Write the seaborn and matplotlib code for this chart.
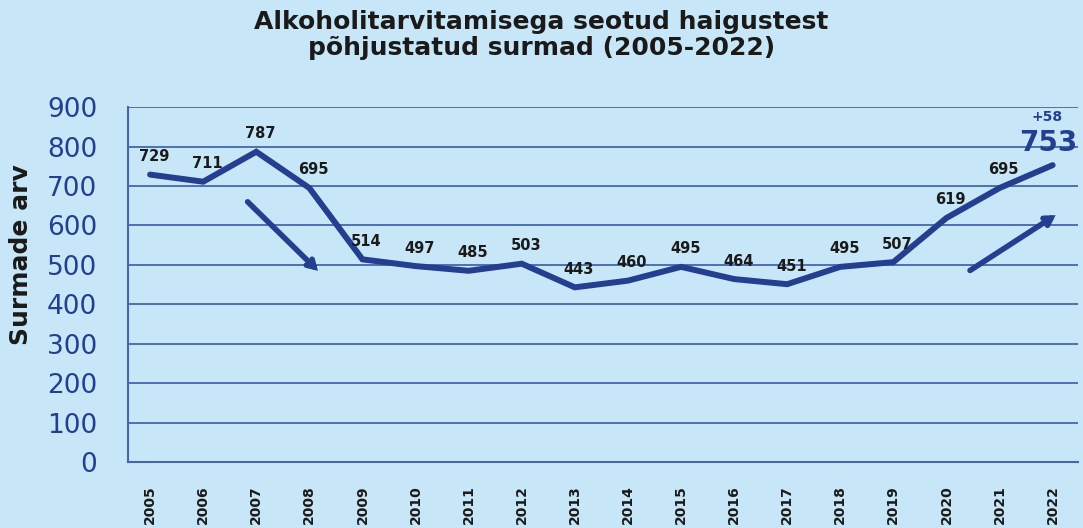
import matplotlib
matplotlib.use("Agg")
import matplotlib.pyplot as plt
import pandas as pd
import seaborn as sns


YEARS = list(range(2005, 2023))
DEATHS = [729, 711, 787, 695, 514, 497, 485, 503, 443, 460, 495, 464, 451, 495, 507, 619, 695, 753]
Y_TICKS = [0, 100, 200, 300, 400, 500, 600, 700, 800, 900]
LAST_CHANGE = "+58"

TITLE = "Alkoholitarvitamisega seotud haigustest\npõhjustatud surmad (2005-2022)"
Y_LABEL = "Surmade arv"

BG = "#c7e7f8"
NAVY = "#243f8f"
GRID = "#4566ad"


def main():
    df = pd.DataFrame({"year": YEARS, "deaths": DEATHS})

    sns.set_style("white")
    plt.rcParams["font.family"] = ["DejaVu Sans"]

    fig = plt.figure(figsize=(10.83, 5.28), dpi=100, facecolor=BG)
    ax = fig.add_axes([0.118, 0.125, 0.877, 0.672])
    ax.set_facecolor(BG)

    sns.lineplot(data=df, x="year", y="deaths", ax=ax, color=NAVY,
                 linewidth=4.3, solid_capstyle="round", solid_joinstyle="miter",
                 zorder=3)

    ax.set_ylim(0, 900)
    ax.set_xlim(YEARS[0] - 0.42, YEARS[-1] + 0.47)
    ax.set_yticks(Y_TICKS)
    ax.set_yticklabels([str(t) for t in Y_TICKS], color=NAVY, fontsize=19)
    ax.set_xticks(YEARS)
    ax.set_xticklabels([str(y) for y in YEARS], rotation=90, fontsize=10,
                       fontweight="bold", color="#1a1a1a")
    ax.tick_params(axis="x", length=0, pad=17)
    ax.tick_params(axis="y", length=0, pad=22)

    ax.grid(axis="y", color=GRID, linewidth=1.3)
    ax.grid(axis="x", visible=False)
    for side in ["top", "right"]:
        ax.spines[side].set_visible(False)
    for side in ["left", "bottom"]:
        ax.spines[side].set_color(GRID)
        ax.spines[side].set_linewidth(1.5)

    ax.set_xlabel("")
    ax.set_ylabel(Y_LABEL, fontsize=18, fontweight="bold", color="#1a1a1a", labelpad=14)
    ax.yaxis.set_label_coords(-0.1, 0.585)

    # value labels
    for year, val in zip(YEARS[:-1], DEATHS[:-1]):
        ax.annotate(str(val), (year, val), xytext=(3, 13), textcoords="offset points",
                    ha="center", va="center", fontsize=10.5, fontweight="bold",
                    color="#1a1a1a")
    ax.annotate(str(DEATHS[-1]), (YEARS[-1], DEATHS[-1]), xytext=(-3, 16),
                textcoords="offset points", ha="center", va="center",
                fontsize=20, fontweight="bold", color=NAVY, annotation_clip=False)
    ax.annotate(LAST_CHANGE, (YEARS[-1], DEATHS[-1]), xytext=(-4, 35),
                textcoords="offset points", ha="center", va="center",
                fontsize=10, fontweight="bold", color=NAVY, annotation_clip=False)

    # trend arrows
    arrow = dict(arrowstyle="->,head_length=0.5,head_width=0.3", color=NAVY,
                 lw=4, capstyle="round", joinstyle="miter")
    ax.annotate("", xy=(2008.2, 480), xytext=(2006.8, 665), arrowprops=arrow, zorder=4)
    ax.annotate("", xy=(2022.1, 630), xytext=(2020.4, 482), arrowprops=arrow, zorder=4)

    fig.text(0.5, 0.982, TITLE, ha="center", va="top", fontsize=18, fontweight="bold",
             color="#1a1a1a", linespacing=1.15)

    fig.savefig("out.png", dpi=100, facecolor=BG)


if __name__ == "__main__":
    main()
